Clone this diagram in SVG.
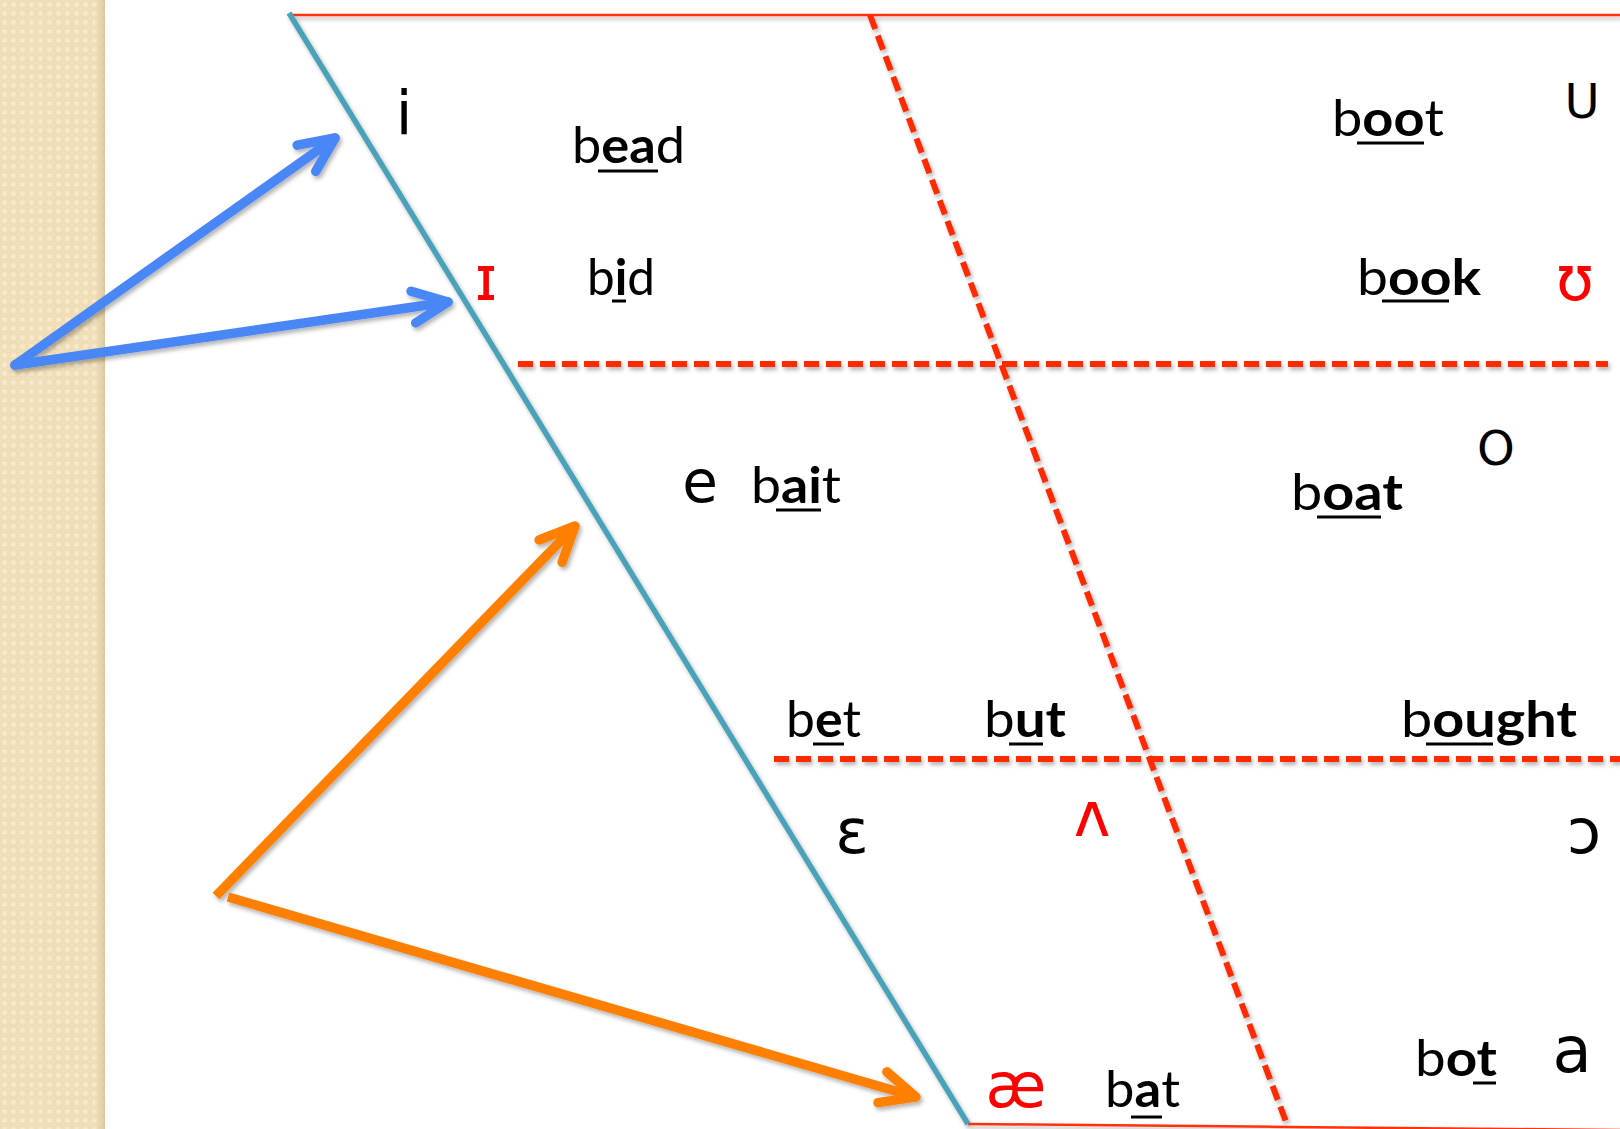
<svg xmlns="http://www.w3.org/2000/svg" width="1620" height="1129" viewBox="0 0 1620 1129">
  <style>
    .ipa { font-family: "DejaVu Sans", "Noto Sans", sans-serif; text-anchor: middle; }
    .blk { fill: #000; }
    .red { fill: #ff0000; }
    .word { font-family: Lato, "Liberation Sans", sans-serif; font-size: 50px; fill: #000; }
    .b { font-weight: 700; }
    .ul { stroke: #000; stroke-width: 3; }
    .solid { stroke: #ff3311; stroke-width: 2.5; fill: none; }
    .dash { stroke: #ff2a00; stroke-width: 6; stroke-dasharray: 15 7; fill: none; }
    .axis { stroke: #4aa2b8; stroke-width: 5.5; fill: none; }
    .arB { stroke: #4a86f6; stroke-width: 9.5; fill: none; }
    .arO { stroke: #ff7f00; stroke-width: 9.5; fill: none; }
  </style>
  <defs>
    <pattern id="weave" x="0" y="0" width="9" height="9" patternUnits="userSpaceOnUse">
      <rect width="9" height="9" fill="#f5e5c3"/>
      <rect x="1" y="1" width="7" height="7" fill="none" stroke="#ead7ae" stroke-width="1"/>
      <rect x="3.5" y="3.5" width="2" height="2" fill="#fbf0d8"/>
    </pattern>
    <linearGradient id="edge" x1="0" y1="0" x2="1" y2="0">
      <stop offset="0" stop-color="#e9d6ad" stop-opacity="0"/>
      <stop offset="1" stop-color="#d6c298" stop-opacity="0.9"/>
    </linearGradient>
    <filter id="sh" x="-5%" y="-5%" width="110%" height="110%">
      <feDropShadow dx="2" dy="3" stdDeviation="2" flood-color="#000" flood-opacity="0.3"/>
    </filter>
    <marker id="headB" markerUnits="userSpaceOnUse" markerWidth="60" markerHeight="60" viewBox="-45 -30 60 60" refX="0" refY="0" orient="auto" overflow="visible">
      <path d="M-35,-16 L0,0 L-35,16" fill="none" stroke="#4a86f6" stroke-width="9.5" stroke-linecap="round" stroke-linejoin="round"/>
    </marker>
    <marker id="headO" markerUnits="userSpaceOnUse" markerWidth="60" markerHeight="60" viewBox="-45 -30 60 60" refX="0" refY="0" orient="auto" overflow="visible">
      <path d="M-35,-16 L0,0 L-35,16" fill="none" stroke="#ff7f00" stroke-width="9.5" stroke-linecap="round" stroke-linejoin="round"/>
    </marker>
  </defs>

  <rect x="0" y="0" width="1620" height="1129" fill="#ffffff"/>
  <g id="side-strip">
    <rect x="0" y="0" width="105" height="1129" fill="url(#weave)"/>
    <rect x="94" y="0" width="11" height="1129" fill="url(#edge)"/>
  </g>

  <g id="chart-lines" filter="url(#sh)">
    <line class="solid" x1="291" y1="15" x2="1620" y2="15"/>
    <line class="solid" x1="968" y1="1124" x2="1620" y2="1130"/>
    <line class="dash" x1="870" y1="15" x2="1288" y2="1127"/>
    <line class="dash" x1="518" y1="364" x2="1608" y2="364"/>
    <line class="dash" x1="774" y1="759" x2="1620" y2="759"/>
    <line class="axis" x1="289" y1="13" x2="968" y2="1124"/>
  </g>

  <g id="connectors" filter="url(#sh)">
    <line class="arB" x1="15" y1="365" x2="335" y2="138" stroke-linecap="round" marker-end="url(#headB)"/>
    <line class="arB" x1="15" y1="365" x2="448" y2="302" stroke-linecap="round" marker-end="url(#headB)"/>
    <line class="arO" x1="216" y1="896" x2="575" y2="526" marker-end="url(#headO)"/>
    <line class="arO" x1="228" y1="897" x2="916" y2="1097" marker-end="url(#headO)"/>
  </g>

  <g id="sym-i"><text class="ipa blk" x="404" y="134" font-size="60">i</text></g>
  <g id="sym-small-cap-i"><text class="ipa red" x="486" y="300" font-size="62">ɪ</text></g>
  <g id="sym-U"><text class="ipa blk" x="1582" y="118" font-size="48">U</text></g>
  <g id="sym-upsilon"><text class="ipa red" x="1575" y="300" font-size="62">ʊ</text></g>
  <g id="sym-e"><text class="ipa blk" x="700" y="502" font-size="58">e</text></g>
  <g id="sym-O"><text class="ipa blk" x="1496" y="465" font-size="48">O</text></g>
  <g id="sym-epsilon"><text class="ipa blk" x="852" y="853" font-size="62">ɛ</text></g>
  <g id="sym-wedge"><text class="ipa red" x="1092" y="836" font-size="62">ʌ</text></g>
  <g id="sym-open-o"><text class="ipa blk" x="1584" y="853" font-size="62">ɔ</text></g>
  <g id="sym-ash"><text class="ipa red" x="1016" y="1107" font-size="62">æ</text></g>
  <g id="sym-a"><text class="ipa blk" x="1572" y="1072" font-size="64">a</text></g>

  <g id="word-bead">
    <text class="word" x="572" y="163" textLength="113" lengthAdjust="spacingAndGlyphs">b<tspan class="b">ea</tspan>d</text>
    <line class="ul" x1="598" y1="171" x2="658" y2="171"/>
  </g>
  <g id="word-bid">
    <text class="word" x="587" y="295" textLength="68" lengthAdjust="spacingAndGlyphs">b<tspan class="b">i</tspan>d</text>
    <line class="ul" x1="612" y1="301" x2="626" y2="301"/>
  </g>
  <g id="word-boot">
    <text class="word" x="1332" y="136" textLength="112" lengthAdjust="spacingAndGlyphs">b<tspan class="b">oo</tspan>t</text>
    <line class="ul" x1="1357" y1="143" x2="1424" y2="143"/>
  </g>
  <g id="word-book">
    <text class="word" x="1357" y="295" textLength="124" lengthAdjust="spacingAndGlyphs">b<tspan class="b">ook</tspan></text>
    <line class="ul" x1="1382" y1="301" x2="1449" y2="301"/>
  </g>
  <g id="word-bait">
    <text class="word" x="751" y="503" textLength="90" lengthAdjust="spacingAndGlyphs">b<tspan class="b">ai</tspan>t</text>
    <line class="ul" x1="776" y1="510" x2="821" y2="510"/>
  </g>
  <g id="word-boat">
    <text class="word" x="1291" y="510" textLength="112" lengthAdjust="spacingAndGlyphs">b<tspan class="b">oat</tspan></text>
    <line class="ul" x1="1317" y1="517" x2="1381" y2="517"/>
  </g>
  <g id="word-bet">
    <text class="word" x="786" y="737" textLength="75" lengthAdjust="spacingAndGlyphs">b<tspan class="b">e</tspan>t</text>
    <line class="ul" x1="813" y1="744" x2="844" y2="744"/>
  </g>
  <g id="word-but">
    <text class="word" x="984" y="737" textLength="82" lengthAdjust="spacingAndGlyphs">b<tspan class="b">ut</tspan></text>
    <line class="ul" x1="1009" y1="744" x2="1043" y2="744"/>
  </g>
  <g id="word-bought">
    <text class="word" x="1401" y="737" textLength="176" lengthAdjust="spacingAndGlyphs">b<tspan class="b">ought</tspan></text>
    <line class="ul" x1="1426" y1="744" x2="1493" y2="744"/>
  </g>
  <g id="word-bat">
    <text class="word" x="1105" y="1107" textLength="75" lengthAdjust="spacingAndGlyphs">b<tspan class="b">a</tspan>t</text>
    <line class="ul" x1="1131" y1="1117" x2="1162" y2="1117"/>
  </g>
  <g id="word-bot">
    <text class="word" x="1415" y="1076" textLength="82" lengthAdjust="spacingAndGlyphs">b<tspan class="b">ot</tspan></text>
    <line class="ul" x1="1473" y1="1083" x2="1496" y2="1083"/>
  </g>
</svg>
